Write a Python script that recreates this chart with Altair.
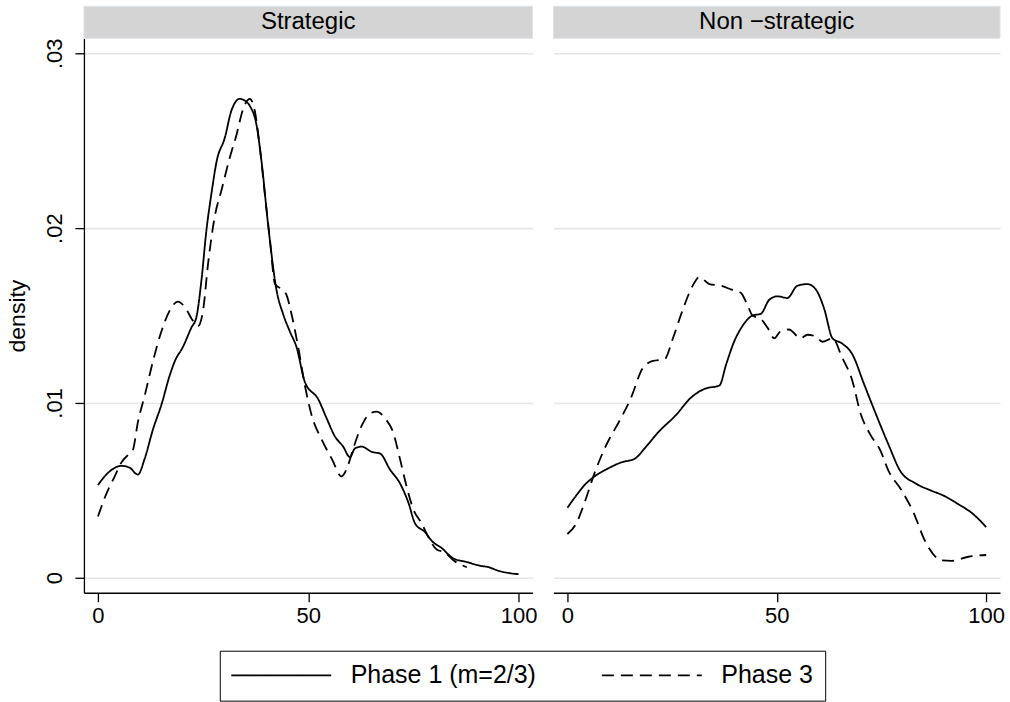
import altair as alt
import pandas as pd

FONT = "Liberation Sans"
panels = ["Strategic", "Non −strategic"]
series = ["Phase 1 (m=2/3)", "Phase 3"]

# Strategic, Phase 1 (m=2/3)
s1_x = [0, 2.4, 5.6, 7.5, 9.5, 11.1, 13.1, 15.1, 17.1, 18.3, 20.2, 22.2, 23.4, 24.6, 25.8, 27.0, 28.2,
        30.2, 31.7, 33.7, 34.9, 36.1, 37.7, 38.9, 40.5, 42.5, 44.0, 45.6, 47.2, 49.2, 52.4, 54.4, 56.3,
        58.3, 59.9, 61.1, 62.7, 65.1, 67.1, 69.4, 71.8, 73.8, 75.4, 77.8, 79.4, 81.7, 84.5, 87.7, 90.5,
        92.9, 95.2, 100]
s1_y = [0.0053, 0.0060, 0.0064, 0.0063, 0.0059, 0.0068, 0.0085, 0.0099, 0.0116, 0.0124, 0.0132, 0.0143,
        0.0149, 0.0170, 0.0199, 0.0220, 0.0238, 0.0252, 0.0267, 0.0274, 0.0273, 0.0270, 0.0259, 0.0238,
        0.0201, 0.0164, 0.0151, 0.0141, 0.0132, 0.0112, 0.0102, 0.0091, 0.0081, 0.0075, 0.0069, 0.0074,
        0.0075, 0.0072, 0.0071, 0.0062, 0.0054, 0.0043, 0.0031, 0.0026, 0.0021, 0.0017, 0.0011, 0.0009,
        0.0007, 0.0006, 0.0004, 0.0002]
# Strategic, Phase 3
s3_x = [0, 2.0, 4.0, 5.6, 7.5, 8.3, 9.5, 11.1, 13.1, 15.1, 17.1, 19.0, 20.6, 22.6, 23.8, 25.0, 26.2,
        27.8, 29.4, 31.3, 32.9, 34.5, 36.1, 37.3, 38.5, 39.7, 40.9, 42.1, 43.7, 44.8, 46.0, 47.6, 49.2,
        50.8, 53.2, 55.6, 57.9, 59.1, 60.7, 62.7, 64.7, 66.3, 68.3, 70.2, 71.8, 73.4, 75.0, 77.0, 78.6,
        80.6, 82.5, 84.5, 87.7]
s3_y = [0.0035, 0.0048, 0.0058, 0.0066, 0.0071, 0.0073, 0.0089, 0.0104, 0.0124, 0.0141, 0.0153, 0.0158,
        0.0155, 0.0147, 0.0144, 0.0153, 0.0180, 0.0207, 0.0222, 0.0240, 0.0253, 0.0268, 0.0274, 0.0267,
        0.0246, 0.0219, 0.0193, 0.0168, 0.0165, 0.0162, 0.0151, 0.0132, 0.0110, 0.0093, 0.0079, 0.0068,
        0.0058, 0.0062, 0.0074, 0.0087, 0.0094, 0.0095, 0.0091, 0.0083, 0.0068, 0.0052, 0.0039, 0.0031,
        0.0023, 0.0016, 0.00145, 0.0010, 0.0006]
# Non-strategic, Phase 1 (m=2/3)
n1_x = [0, 2.1, 4.1, 6.5, 9.3, 12.9, 16.0, 18.8, 21.6, 25.9, 29.5, 32.7, 36.3, 37.9, 39.8, 41.8, 44.2,
        46.2, 48.2, 50.2, 52.5, 54.9, 57.3, 59.3, 61.3, 63.3, 65.6, 68.0, 70.8, 73.6, 76.7, 79.5, 83.1,
        86.7, 89.8, 93.4, 96.6, 100]
n1_y = [0.0040, 0.0047, 0.0053, 0.0058, 0.0062, 0.0066, 0.0068, 0.0075, 0.0083, 0.0093, 0.0103, 0.0108,
        0.0110, 0.0122, 0.0135, 0.0144, 0.0150, 0.0151, 0.0159, 0.0161, 0.0160, 0.0167, 0.0168, 0.0165,
        0.0154, 0.0137, 0.0134, 0.0128, 0.0111, 0.0094, 0.0076, 0.0061, 0.0054, 0.0050, 0.0047, 0.0042,
        0.0037, 0.0029]
# Non-strategic, Phase 3
n3_x = [0, 2.1, 4.1, 6.5, 9.3, 12.5, 15.2, 18.0, 20.4, 23.2, 25.2, 27.5, 29.9, 31.5, 33.9, 36.7, 39.0,
        41.4, 43.0, 44.2, 46.2, 47.8, 49.4, 50.9, 52.9, 55.7, 57.3, 59.3, 60.9, 63.3, 65.6, 68.0, 70.0,
        72.3, 74.7, 76.7, 79.8, 82.7, 85.4, 89.4, 91.8, 95.7, 100]
n3_y = [0.0025, 0.0031, 0.0043, 0.0060, 0.0076, 0.0090, 0.0103, 0.0120, 0.0124, 0.0125, 0.0137, 0.0153,
        0.0167, 0.0172, 0.0168, 0.0167, 0.0165, 0.0163, 0.0156, 0.0150, 0.0148, 0.0143, 0.0137, 0.0141,
        0.0142, 0.0137, 0.0139, 0.0138, 0.0135, 0.0137, 0.0126, 0.0113, 0.0094, 0.0082, 0.0073, 0.0061,
        0.0050, 0.0037, 0.0021, 0.0010, 0.00097, 0.0012, 0.0013]

rows = []
for pname, sname, xs, ys in [
    (panels[0], series[0], s1_x, s1_y),
    (panels[0], series[1], s3_x, s3_y),
    (panels[1], series[0], n1_x, n1_y),
    (panels[1], series[1], n3_x, n3_y),
]:
    for i, (xv, yv) in enumerate(zip(xs, ys)):
        rows.append({"panel": pname, "series": sname, "x": xv, "y": yv, "order": i})
df = pd.DataFrame(rows)

X_DOM = [-3.33, 103.3]
Y_DOM = [-0.00086, 0.03086]
PW = [449, 447]
PH = 555

# long horizontal line symbol (100 px at symbolSize 100)
legend = alt.Legend(
    title=None, orient="none", legendX=136, legendY=613, direction="horizontal",
    symbolType="M-2.6,0H17.4", symbolSize=100, symbolStrokeWidth=1.8, symbolStrokeColor="black",
    labelFont=FONT, labelFontSize=25, labelColor="black", labelOffset=94, labelLimit=400,
    columnPadding=61, padding=12, strokeColor="black", fillColor="white",
)


def panel(idx):
    name = panels[idx]
    w = PW[idx]
    d = df[df.panel == name]
    if idx == 0:
        yaxis = alt.Axis(
            values=[0, 0.01, 0.02, 0.03], title="density", titleFont=FONT, titleFontSize=23,
            titleFontWeight="normal", titleColor="black", titlePadding=14,
            labelExpr="datum.value == 0 ? '0' : replace(format(datum.value, '.2f'), '0.', '.')",
            labelAngle=-90, labelAlign="center", labelBaseline="alphabetic", labelPadding=13,
            labelFont=FONT, labelFontSize=22, labelColor="black",
            tickSize=9, tickColor="black", tickWidth=1.3, domainColor="black", domainWidth=1.3,
            grid=True, gridColor="#e6e6e6", gridWidth=1.6,
        )
    else:
        yaxis = alt.Axis(
            values=[0, 0.01, 0.02, 0.03], title=None, labels=False, ticks=False, domain=False,
            grid=True, gridColor="#e6e6e6", gridWidth=1.6,
        )
    xaxis = alt.Axis(
        values=[0, 50, 100], title=None, labelFont=FONT, labelFontSize=22, labelColor="black",
        tickSize=9, tickColor="black", tickWidth=1.3, domainColor="black", domainWidth=1.3,
        labelPadding=4, grid=False, labelFlush=False,
    )
    lines = alt.Chart(d).mark_line(color="black", strokeWidth=1.8, interpolate="monotone").encode(
        x=alt.X("x:Q", scale=alt.Scale(domain=X_DOM, nice=False, zero=False), axis=xaxis),
        y=alt.Y("y:Q", scale=alt.Scale(domain=Y_DOM, nice=False, zero=False), axis=yaxis),
        strokeDash=alt.StrokeDash(
            "series:N", scale=alt.Scale(domain=series, range=[[1, 0], [12, 7]]), legend=legend
        ),
        detail="series:N",
        order="order:Q",
    )
    strip_df = pd.DataFrame({"label": [name]})
    strip = alt.Chart(strip_df).mark_rect(color="#d4d4d4", stroke="#dde3ea", strokeWidth=1).encode(
        x=alt.value(0), x2=alt.value(w), y=alt.value(-32), y2=alt.value(0)
    )
    strip_text = alt.Chart(strip_df).mark_text(
        font=FONT, fontSize=24, color="black", baseline="middle", align="center"
    ).encode(x=alt.value(w / 2), y=alt.value(-16), text="label:N")
    return alt.layer(strip, strip_text, lines).properties(width=w, height=PH)


chart = alt.hconcat(panel(0), panel(1), spacing=15).resolve_scale(
    x="independent", y="independent", strokeDash="shared"
).properties(
    padding={"left": 7, "top": 5, "right": 5, "bottom": 2},
    background="white",
).configure_view(strokeWidth=0)

chart.save("out.html", embed_options={"renderer": "svg", "actions": False})
